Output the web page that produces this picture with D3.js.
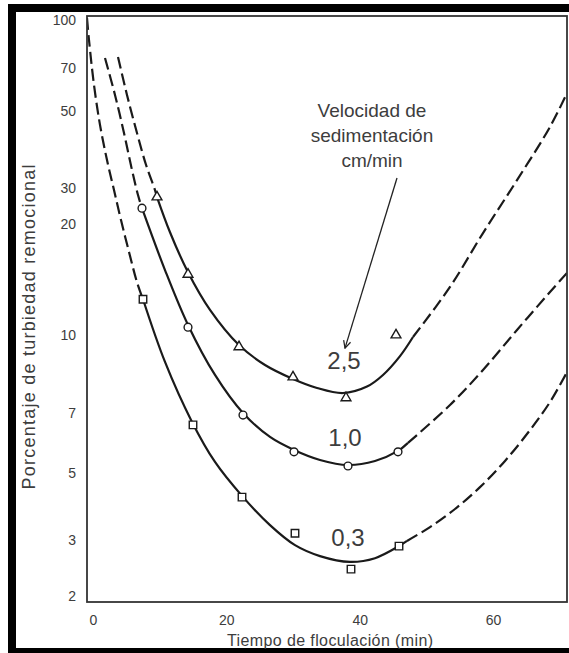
<!doctype html>
<html>
<head>
    <meta charset="utf-8">
    <title>Porcentaje de turbiedad remocional</title>
    <script src="https://cdn.jsdelivr.net/npm/d3@7"></script>
    <style>
        body { margin: 0; background: #fff; }
        svg { display: block; }
        text { font-family: "Liberation Sans", Arial, sans-serif; fill: #3d3d3d; }
    </style>
</head>
<body>
<div id="plot"></div>
<script>
// puntos medidos: tiempo de floculacion (min) y porcentaje de turbiedad
var tTriangulos = [9.6, 14.25, 21.9, 30, 37.95, 45.45];
var vTriangulos = [27.1, 14.6, 9.47, 8.25, 7.5, 10.0];
var tCirculos = [7.35, 14.25, 22.5, 30.15, 38.25, 45.75];
var vCirculos = [23.9, 10.5, 6.92, 5.63, 5.2, 5.63];
var tCuadrados = [7.5, 15, 22.35, 30.3, 38.7, 45.9];
var vCuadrados = [12.5, 6.55, 4.16, 3.16, 2.43, 2.87];

// curvas trazadas [tiempo, porcentaje]: tramo punteado izq, continuo, punteado der
var curva25Izq = [[3.75, 76], [5.1, 56.7], [6.6, 43.2], [7.95, 35], [9.3, 29.3], [9.6, 27.1]];
var curva25 = [[9.6, 27.1], [11.55, 19.0], [14.25, 14.8], [17.55, 11.7], [21.9, 9.55], [25.8, 8.72],
    [30, 8.18], [33.6, 7.85], [37.5, 7.67], [41.1, 7.9], [43.5, 8.33], [46.05, 9.08], [48, 9.91]];
var curva25Der = [[48, 9.91], [53.55, 13.5], [58.5, 18.9], [63.6, 31.6], [68.55, 45], [71.1, 57.5]];

var curva10Izq = [[1.8, 75.4], [3.3, 56.7], [4.65, 43.2], [5.85, 33.8], [6.75, 27.7], [7.35, 23.9]];
var curva10 = [[7.35, 23.9], [10.8, 15.0], [14.25, 10.65], [18.3, 8.33], [22.5, 7.0], [26.55, 6.12],
    [30.15, 5.69], [34.05, 5.38], [38.25, 5.23], [42.3, 5.35], [45.75, 5.66], [47.25, 5.92]];
var curva10Der = [[47.25, 5.92], [53.55, 7.26], [58.5, 8.52], [63.6, 10.32], [68.55, 13.08], [71.1, 14.73]];

var curva03Izq = [[-0.9, 101.5], [-0.6, 86.2], [0.15, 61.3], [1.05, 45.6], [2.1, 36.1], [3.15, 29.3],
    [4.2, 20.9], [5.4, 16.8], [6.6, 13.9], [7.5, 12.5]];
var curva03 = [[7.5, 12.5], [10.8, 8.84], [14.85, 6.66], [18.3, 5.32], [22.35, 4.2], [26.55, 3.36],
    [30.3, 2.89], [34.05, 2.67], [38.55, 2.56], [42.3, 2.63], [45.9, 2.87], [47.1, 2.98]];
var curva03Der = [[47.1, 2.98], [50.55, 3.31], [54.3, 3.8], [58.05, 4.49], [61.8, 5.35], [65.55, 6.36],
    [68.55, 7.36], [71.1, 8.44]];

// etiquetas
var etiquetasVelocidad = ["2,5", "1,0", "0,3"];
var posEtiquetas = [[37.65, 8.92], [37.8, 6.12], [38.25, 3.07]];
var tituloLeyenda = ["Velocidad de", "sedimentación", "cm/min"];
var xTicks = [0, 20, 40, 60];
var yTicks = [2, 3, 5, 7, 10, 20, 30, 50, 70, 100];

var W = 569, H = 653;
var pLeft = 87, pRight = 567, pTop = 16, pBottom = 602;

var svg = d3.select('#plot').append('svg')
    .attr('width', W)
    .attr('height', H);

var x = d3.scaleLinear().domain([0, 60]).range([93, 493]);
// el eje original no es logaritmico regular: escala log por tramos entre las marcas
var y = d3.scaleLog().domain(yTicks).range([596, 540, 473, 413, 335, 224, 188, 111, 68, 20]);

// marco negro de la figura
svg.append('rect').attr('x', 8).attr('y', 4).attr('width', W - 8).attr('height', 8).attr('fill', '#000');
svg.append('rect').attr('x', 8).attr('y', 4).attr('width', 8).attr('height', H - 4).attr('fill', '#000');
svg.append('rect').attr('x', 8).attr('y', 648).attr('width', W - 8).attr('height', 5).attr('fill', '#000');

svg.append('clipPath').attr('id', 'clip')
    .append('rect')
    .attr('x', pLeft).attr('y', pTop)
    .attr('width', pRight - pLeft).attr('height', pBottom - pTop);

var linea = d3.line()
    .x(function(d) { return x(d[0]); })
    .y(function(d) { return y(d[1]); })
    .curve(d3.curveCatmullRom.alpha(0.5));

var g = svg.append('g').attr('clip-path', 'url(#clip)');

[curva25Izq, curva25Der, curva10Izq, curva10Der, curva03Izq, curva03Der].forEach(function(c) {
    g.append('path')
        .attr('d', linea(c))
        .attr('fill', 'none')
        .attr('stroke', '#1a1a1a')
        .attr('stroke-width', 2.2)
        .attr('stroke-dasharray', '12,5');
});
[curva25, curva10, curva03].forEach(function(c) {
    g.append('path')
        .attr('d', linea(c))
        .attr('fill', 'none')
        .attr('stroke', '#1a1a1a')
        .attr('stroke-width', 2.2);
});

// marco del grafico
svg.append('rect')
    .attr('x', pLeft).attr('y', pTop)
    .attr('width', pRight - pLeft).attr('height', pBottom - pTop)
    .attr('fill', 'none')
    .attr('stroke', '#333')
    .attr('stroke-width', 1.8);

function marcas(ts, vs, tipo, size) {
    var sym = d3.symbol().type(tipo).size(size);
    svg.append('g').selectAll('path')
        .data(ts)
        .enter().append('path')
        .attr('transform', function(d, i) { return 'translate(' + x(d) + ',' + y(vs[i]) + ')'; })
        .attr('d', sym)
        .attr('fill', '#fff')
        .attr('stroke', '#1a1a1a')
        .attr('stroke-width', 1.4);
}
marcas(tTriangulos, vTriangulos, d3.symbolTriangle, 42);
marcas(tCirculos, vCirculos, d3.symbolCircle, 48);
marcas(tCuadrados, vCuadrados, d3.symbolSquare, 56);

// ejes (solo etiquetas)
var yAxis = svg.append('g')
    .attr('transform', 'translate(' + pLeft + ',0)')
    .call(d3.axisLeft(y).tickValues(yTicks).tickFormat(d3.format('d')).tickSize(0).tickPadding(11));
var xAxis = svg.append('g')
    .attr('transform', 'translate(0,' + pBottom + ')')
    .call(d3.axisBottom(x).tickValues(xTicks).tickSize(0).tickPadding(13));
[yAxis, xAxis].forEach(function(a) {
    a.select('.domain').remove();
    a.selectAll('text')
        .attr('fill', '#3d3d3d')
        .style('font-size', '14px')
        .style('font-family', '"Liberation Sans", Arial, sans-serif');
});

svg.append('text')
    .attr('x', 330).attr('y', 646)
    .attr('text-anchor', 'middle')
    .attr('textLength', 206)
    .style('font-size', '16px')
    .text('Tiempo de floculación (min)');

svg.append('text')
    .attr('transform', 'translate(35,327) rotate(-90)')
    .attr('text-anchor', 'middle')
    .attr('textLength', 325)
    .style('font-size', '18px')
    .text('Porcentaje de turbiedad remocional');

// etiquetas de velocidad
svg.append('g').selectAll('text')
    .data(etiquetasVelocidad)
    .enter().append('text')
    .attr('x', function(d, i) { return x(posEtiquetas[i][0]); })
    .attr('y', function(d, i) { return y(posEtiquetas[i][1]); })
    .attr('dy', '0.36em')
    .attr('text-anchor', 'middle')
    .style('font-size', '24px')
    .text(function(d) { return d; });

// titulo de la leyenda y flecha
var leyenda = svg.append('text')
    .attr('x', x(41.85))
    .attr('y', y(42.7))
    .attr('text-anchor', 'middle')
    .style('font-size', '19px');
leyenda.selectAll('tspan')
    .data(tituloLeyenda)
    .enter().append('tspan')
    .attr('x', x(41.85))
    .attr('dy', function(d, i) { return i === 0 ? '-0.95em' : '1.32em'; })
    .text(function(d) { return d; });

svg.append('defs').append('marker')
    .attr('id', 'punta')
    .attr('viewBox', '0 0 10 10')
    .attr('refX', 9).attr('refY', 5)
    .attr('markerWidth', 9).attr('markerHeight', 9)
    .attr('markerUnits', 'userSpaceOnUse')
    .attr('orient', 'auto')
    .append('path')
    .attr('d', 'M1,1 L9,5 L1,9')
    .attr('fill', 'none')
    .attr('stroke', '#222')
    .attr('stroke-width', 1.4);

svg.append('line')
    .attr('x1', x(45.6)).attr('y1', y(32.06))
    .attr('x2', x(37.8)).attr('y2', y(9.42))
    .attr('stroke', '#222')
    .attr('stroke-width', 1.3)
    .attr('marker-end', 'url(#punta)');
</script>
</body>
</html>
